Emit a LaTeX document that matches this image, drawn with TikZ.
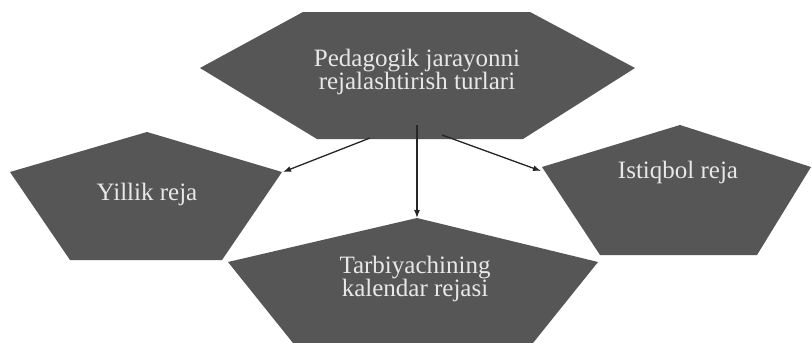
\documentclass[tikz,border=0pt]{standalone}
\usepackage{fontspec}
\setmainfont{Liberation Serif}
\usepackage{xcolor}
\usepackage{tikz}
\usetikzlibrary{arrows.meta}
\definecolor{shapegray}{HTML}{565656}
\definecolor{labelgray}{HTML}{E8E8E8}

\begin{document}
\begin{tikzpicture}[x=1pt, y=-1pt,
  shp/.style={fill=shapegray},
  lbl/.style={text=labelgray, align=center, font=\fontsize{25}{23}\selectfont},
  arr/.style={-{Latex[length=8pt,width=6pt]}, line width=1.3pt, black!85}
]
\useasboundingbox[fill=white] (0,0) rectangle (812,343);
% shapes
\fill[shp] (303,12) -- (530,12) -- (635,68) -- (523,139) -- (317,139) -- (200,68) -- cycle;
\fill[shp] (147,132) -- (282,172) -- (222,260) -- (70,260) -- (10,172) -- cycle;
\fill[shp] (680,125) -- (811,167) -- (757,255) -- (600,255) -- (542,167) -- cycle;
\fill[shp] (417,218) -- (598,262) -- (533,343) -- (293,343) -- (228,262) -- cycle;
% texts
\node[lbl] (turlar) at (417,72) {Pedagogik jarayonni\\rejalashtirish turlari};
\node[lbl] (yillik) at (147,194) {Yillik reja};
\node[lbl] (istiqbol) at (678,172) {Istiqbol reja};
\node[lbl] (kalendar) at (415,279) {Tarbiyachining\\kalendar rejasi};
% connector ends
\coordinate (turlar-s) at (417,125);
\coordinate (turlar-sw) at (370,138);
\coordinate (turlar-se) at (442,135);
\coordinate (yillik-e) at (283,172);
\coordinate (istiqbol-w) at (541,171);
\coordinate (kalendar-n) at (417,218);
\draw[arr] (turlar-sw) -- (yillik-e);
\draw[arr] (turlar-s) -- (kalendar-n);
\draw[arr] (turlar-se) -- (istiqbol-w);
\end{tikzpicture}
\end{document}
